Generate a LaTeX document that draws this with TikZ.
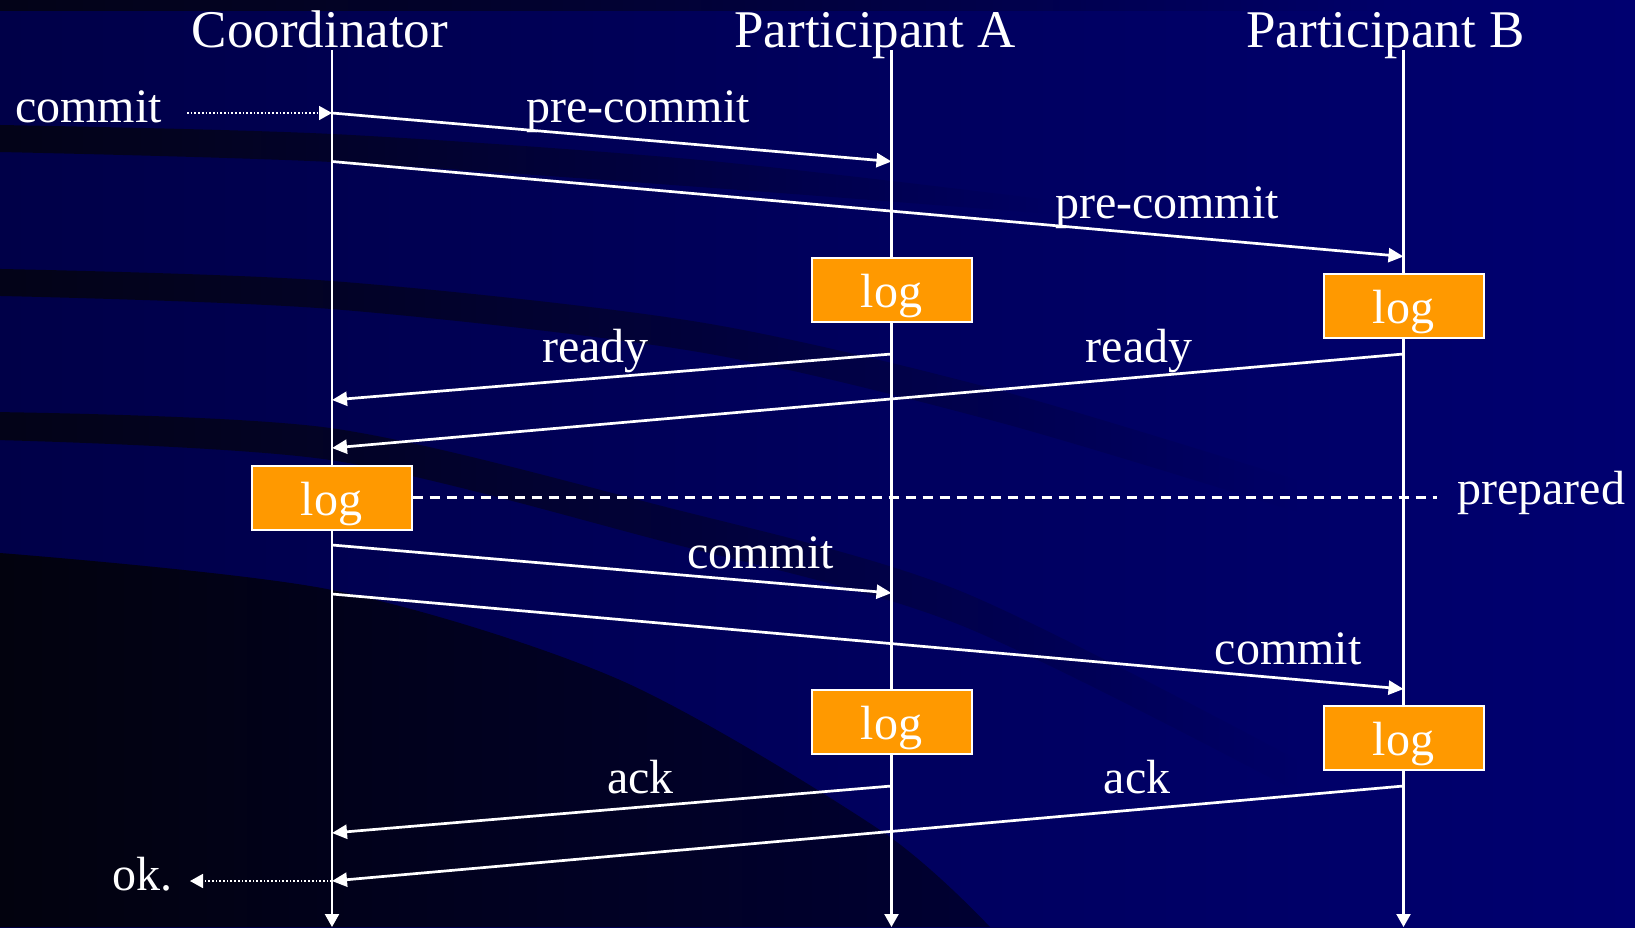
\documentclass[tikz,border=0pt]{standalone}
\usepackage{fontspec}
\setmainfont{Liberation Serif}
\usetikzlibrary{arrows.meta,fadings}

\definecolor{navyL}{RGB}{0,0,72}
\definecolor{navyR}{RGB}{0,0,112}
\definecolor{swoosh}{RGB}{4,4,24}
\definecolor{nearblack}{RGB}{2,2,14}
\definecolor{deepnavy}{RGB}{0,0,50}
\definecolor{logfill}{RGB}{255,153,0}

% opaque on the left, vanishing towards the right
\tikzfading[name=fadeband, left color=transparent!0, middle color=transparent!25, right color=transparent!100]

\tikzset{
  lifeline/.style={draw=white, line width=2.2pt, -{Triangle[length=13pt,width=14pt]}},
  msg/.style={draw=white, line width=2.7pt, -{Triangle[length=15pt,width=14pt]}},
  extmsg/.style={draw=white, line width=1.7pt, dotted, -{Triangle[length=13pt,width=14pt]}},
  logbox/.style={fill=logfill, draw=white, line width=2pt, minimum width=160pt,
    minimum height=64pt, inner sep=0pt, text=white, font=\fontsize{48}{58}\selectfont,
    text height=35pt, text depth=0pt},
  lbl/.style={text=white, font=\fontsize{48}{58}\selectfont, inner sep=0pt, anchor=base},
  title/.style={text=white, font=\fontsize{53}{64}\selectfont, inner sep=0pt, anchor=base},
  band/.style={fill=swoosh, path fading=fadeband},
}

\begin{document}
\begin{tikzpicture}[x=1pt,y=-1pt]
\useasboundingbox (0,0) rectangle (1635,927);

% ---- background ----
\shade[left color=navyL, right color=navyR] (0,0) rectangle (1635,927);
\fill[band] (0,0) rectangle (1400,11);
\fill[band] plot[smooth] coordinates {(0,125) (332,134) (700,160) (1050,200)}
  -- plot[smooth] coordinates {(1050,214) (700,187) (332,162) (0,152)} -- cycle;
\fill[band] plot[smooth] coordinates {(0,269) (332,281) (700,322) (1000,390) (1300,480)}
  -- plot[smooth] coordinates {(1300,512) (1000,422) (700,352) (332,309) (0,296)} -- cycle;
\fill[band] plot[smooth] coordinates {(0,412) (332,428) (660,505) (960,590) (1300,760)}
  -- plot[smooth] coordinates {(1300,792) (960,624) (660,540) (332,460) (0,440)} -- cycle;
\shade[left color=nearblack, right color=deepnavy]
  plot[smooth] coordinates {(0,553) (332,590) (620,680) (880,830) (990,927)}
  -- (0,927) -- cycle;

% ---- headings ----
\node[title] (tC) at (320,47) {Coordinator};
\node[title] (tA) at (875,47) {Participant A};
\node[title] (tB) at (1385.5,47) {Participant B};

% ---- lifelines ----
\coordinate (cTop) at (332,50);   \coordinate (cBot) at (332,927);
\coordinate (aTop) at (891.5,50); \coordinate (aBot) at (891.5,927);
\coordinate (bTop) at (1403.5,50);\coordinate (bBot) at (1403.5,927);
\draw[lifeline] (cTop) -- (cBot);
\draw[lifeline] (aTop) -- (aBot);
\draw[lifeline] (bTop) -- (bBot);

% ---- message end points ----
\coordinate (c1) at (332,113);    \coordinate (a1) at (891.5,161.5);
\coordinate (c2) at (332,161.5);  \coordinate (b2) at (1403.5,256.5);
\coordinate (a3) at (891.5,354);  \coordinate (c3) at (332,400);
\coordinate (b4) at (1403.5,354); \coordinate (c4) at (332,448);
\coordinate (c5) at (332,545);    \coordinate (a5) at (891.5,593);
\coordinate (c6) at (332,594);    \coordinate (b6) at (1403.5,689);
\coordinate (a7) at (891.5,786);  \coordinate (c7) at (332,833);
\coordinate (b8) at (1403.5,786); \coordinate (c8) at (332,881);
\coordinate (inStart) at (187,113);
\coordinate (okTip) at (190,881);
\coordinate (prepEnd) at (1437,497.5);

% ---- log records ----
\node[logbox] (logA1) at (891.5,289.5) {log};
\node[logbox] (logB1) at (1403.5,305.5) {log};
\node[logbox] (logC)  at (331.5,497.5) {log};
\node[logbox] (logA2) at (891.5,721.5) {log};
\node[logbox] (logB2) at (1403.5,738) {log};

% ---- messages ----
\draw[extmsg] (inStart) -- (c1);
\draw[msg] (c1) -- (a1);
\draw[msg] (c2) -- (b2);
\draw[msg] (a3) -- (c3);
\draw[msg] (b4) -- (c4);
\draw[msg] (c5) -- (a5);
\draw[msg] (c6) -- (b6);
\draw[msg] (a7) -- (c7);
\draw[msg] (b8) -- (c8);
\draw[extmsg] (c8) -- (okTip);
\draw[white, line width=2.2pt, dash pattern=on 10pt off 7pt] (logC.east) -- (prepEnd);

% ---- labels ----
\node[lbl, anchor=base west] (lIn) at (15,122) {commit};
\node[lbl] (l1) at (638,122) {pre-commit};
\node[lbl] (l2) at (1167,218) {pre-commit};
\node[lbl] (l3) at (595.5,362) {ready};
\node[lbl] (l4) at (1139,362) {ready};
\node[lbl, anchor=base west] (lPrep) at (1457,504) {prepared};
\node[lbl] (l5) at (760.5,568) {commit};
\node[lbl] (l6) at (1288,664) {commit};
\node[lbl] (l7) at (640.5,793) {ack};
\node[lbl] (l8) at (1137,793) {ack};
\node[lbl, anchor=base west] (lOk) at (112,890) {ok.};
\end{tikzpicture}
\end{document}
